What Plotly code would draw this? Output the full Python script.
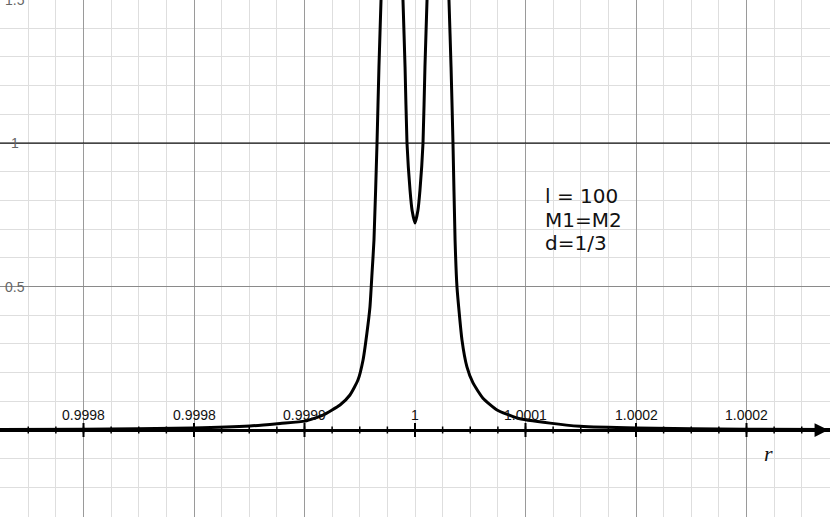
import numpy as np
import plotly.graph_objects as go

# curve (three branches, split by None)
r_vals = [
    0.99969, 0.9997596, 0.9998393, 0.9998805, 0.9999023, 0.9999204, 0.9999334,
    0.9999457, 0.9999529, 0.9999587, 0.9999624, 0.9999652, 0.9999674, 0.9999689,
    0.9999703, 0.9999725, 0.9999739, 0.9999754, 0.9999768,
    None,
    0.9999899, 0.9999913, 0.9999928, 0.9999942, 0.9999964, 0.9999979, 1.0,
    1.0000021, 1.0000036, 1.0000058, 1.0000072, 1.0000087, 1.0000101,
    None,
    1.0000232, 1.0000246, 1.0000261, 1.0000275, 1.0000290, 1.0000304, 1.0000340,
    1.0000376, 1.0000420, 1.0000492, 1.0000594, 1.0000738, 1.0000977, 1.0001195,
    1.0001607, 1.0002396, 1.00031,
]
f_vals = [
    0.002, 0.003, 0.007, 0.014, 0.023, 0.031, 0.052,
    0.087, 0.122, 0.174, 0.244, 0.338, 0.429, 0.547,
    0.662, 1.0, 1.265, 1.498, 1.75,
    None,
    1.73, 1.498, 1.265, 1.0, 0.836, 0.765, 0.721,
    0.765, 0.836, 1.0, 1.265, 1.498, 1.73,
    None,
    1.75, 1.498, 1.265, 1.0, 0.662, 0.498, 0.314,
    0.220, 0.164, 0.111, 0.070, 0.042, 0.024, 0.013,
    0.007, 0.003, 0.002,
]

x_tickvals = [0.99976, 0.99984, 0.99992, 1.0, 1.00008, 1.00016, 1.00024]
x_ticktext = ["0.9998", "0.9998", "0.9999", "1", "1.0001", "1.0002", "1.0002"]
y_tickvals = [0.5, 1.0, 1.5]
y_ticktext = ["0.5", "1", "1.5"]
note_lines = ["l = 100", "M1=M2", "d=1/3"]

x_range = [1 - 0.00030045, 1 + 0.00030045]
y_range = [-0.3031, 1.4983]
minor_step = 0.00002

fig = go.Figure()

# horizontal reference y = 1
fig.add_hline(y=1, line=dict(color="black", width=1.2))

fig.add_trace(
    go.Scatter(
        x=r_vals,
        y=f_vals,
        mode="lines",
        line=dict(color="black", width=3, shape="spline", smoothing=0.5),
        connectgaps=False,
        hoverinfo="skip",
        showlegend=False
    )
)

# tick marks across the r axis
minor_x = np.arange(1 - 14 * minor_step, 1 + 15 * minor_step, minor_step)
minor_x = [v for v in minor_x if v < x_range[1] - minor_step / 2]
fig.add_trace(
    go.Scatter(
        x=minor_x,
        y=[0] * len(minor_x),
        mode="markers",
        marker=dict(symbol="line-ns", size=5, line=dict(color="black", width=1.5)),
        hoverinfo="skip",
        showlegend=False
    )
)
fig.add_trace(
    go.Scatter(
        x=x_tickvals,
        y=[0] * len(x_tickvals),
        mode="markers",
        marker=dict(symbol="line-ns", size=10, line=dict(color="black", width=2)),
        hoverinfo="skip",
        showlegend=False
    )
)

for v, t in zip(x_tickvals, x_ticktext):
    fig.add_annotation(
        x=v, y=0, xref="x", yref="y", text=t, showarrow=False,
        xanchor="center", yanchor="middle", yshift=15,
        font=dict(family="Liberation Sans, Arial", size=14, color="#111")
    )

# y labels in paper units so the clipped 1.5 at the top edge still shows
y_span = y_range[1] - y_range[0]
for v, t in zip(y_tickvals, y_ticktext):
    fig.add_annotation(
        x=14.5 / 830, y=(v - y_range[0]) / y_span, xref="paper", yref="paper",
        text=t, showarrow=False, xanchor="center", yanchor="middle",
        font=dict(family="Liberation Sans, Arial", size=14, color="#666")
    )

for i, line in enumerate(note_lines):
    fig.add_annotation(
        x=543 / 830, y=1 - (196 + 23.5 * i) / 517, xref="paper", yref="paper",
        text=line, showarrow=False, xanchor="left", yanchor="middle",
        font=dict(family="DejaVu Sans", size=20, color="#111")
    )

# axis arrow and label
fig.add_annotation(
    x=0.998, y=0, xref="paper", yref="y", ax=-25, ay=0, text="",
    showarrow=True, arrowhead=2, arrowsize=1.1, arrowwidth=2.5, arrowcolor="black"
)
fig.add_annotation(
    x=768 / 830, y=0, xref="paper", yref="y", text="<i>r</i>", showarrow=False,
    xanchor="center", yanchor="middle", yshift=-23,
    font=dict(family="Liberation Serif", size=22, color="#111")
)

fig.update_xaxes(
    range=x_range,
    tickmode="array",
    tickvals=[v for v in x_tickvals if v != 1.0],
    showticklabels=False,
    ticks="",
    showgrid=True,
    gridcolor="#9a9a9a",
    gridwidth=1,
    zeroline=False,
    minor=dict(tick0=1.0, dtick=minor_step, showgrid=True, gridcolor="#dedede", gridwidth=1),
    showline=False
)
fig.update_yaxes(
    range=y_range,
    tick0=0,
    dtick=0.5,
    showticklabels=False,
    ticks="",
    showgrid=True,
    gridcolor="#8a8a8a",
    gridwidth=1,
    zeroline=True,
    zerolinecolor="black",
    zerolinewidth=2.5,
    minor=dict(tick0=0, dtick=0.1, showgrid=True, gridcolor="#dedede", gridwidth=1),
    showline=False
)

fig.update_layout(
    width=830,
    height=517,
    margin=dict(l=0, r=0, t=0, b=0),
    paper_bgcolor="white",
    plot_bgcolor="white",
    showlegend=False
)

fig.write_html(
    "out.html",
    config={"displayModeBar": False},
    post_script="document.body.style.margin='0';"
)
